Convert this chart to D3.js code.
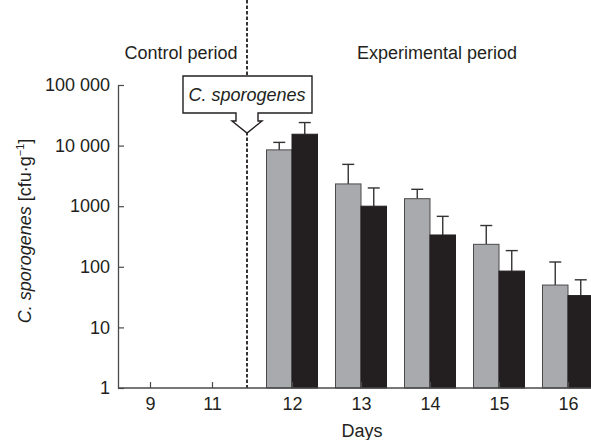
<!DOCTYPE html>
<html>
<head>
<meta charset="utf-8">
<script src="https://cdn.jsdelivr.net/npm/d3@7"></script>
<style>
  body { margin: 0; background: #fff; }
  svg { display: block; font-family: "Liberation Sans", Arial, Helvetica, sans-serif; }
  text { fill: #231f20; }
</style>
</head>
<body>
<div id="chart"></div>
<script>
"use strict";

// data
let days = [9, 11, 12, 13, 14, 15, 16];
let sampledDays = [12, 13, 14, 15, 16];
let greyMean = [8500, 2330, 1330, 235, 50];
let greyUpper = [11300, 4900, 1900, 480, 120];
let blackMean = [15400, 1000, 335, 85, 33.5];
let blackUpper = [24000, 2000, 680, 185, 61];
let yTicks = [1, 10, 100, 1000, 10000, 100000];
let yTickLabels = ['1', '10', '100', '1000', '10 000', '100 000'];
let dosingDay = 11.5;

let width = 591;
let height = 440;
let barW = 25.5;
let fontSize = 18;

let x = d3.scaleLinear()
  .domain([9, 11, 11.5, 12, 16])
  .range([150, 212, 247, 292, 568]);

let y = d3.scaleLog()
  .domain([1, 100000])
  .range([388, 85]);

let svg = d3.select('#chart')
  .append('svg')
  .attr('width', width)
  .attr('height', height);

let series = [
  { mean: greyMean, upper: greyUpper, fill: '#a9aaad', stroke: '#4a4a4a', off: -barW },
  { mean: blackMean, upper: blackUpper, fill: '#231f20', stroke: '#231f20', off: 0 }
];

// dashed separator
svg.append('line')
  .attr('x1', x(dosingDay)).attr('x2', x(dosingDay))
  .attr('y1', 0).attr('y2', y(1))
  .attr('stroke', '#231f20')
  .attr('stroke-width', 1.8)
  .attr('stroke-dasharray', '3.5,2');

series.forEach(s => {
  let rows = sampledDays.map((d, i) => ({ day: d, mean: s.mean[i], upper: s.upper[i] }));
  let g = svg.append('g');

  // error bars (upper only)
  g.selectAll('line.err')
    .data(rows)
    .enter().append('line')
    .attr('x1', d => x(d.day) + s.off + barW / 2)
    .attr('x2', d => x(d.day) + s.off + barW / 2)
    .attr('y1', d => y(d.mean))
    .attr('y2', d => y(d.upper))
    .attr('stroke', '#333')
    .attr('stroke-width', 1.4);

  g.selectAll('line.cap')
    .data(rows)
    .enter().append('line')
    .attr('x1', d => x(d.day) + s.off + barW / 2 - 6)
    .attr('x2', d => x(d.day) + s.off + barW / 2 + 6)
    .attr('y1', d => y(d.upper))
    .attr('y2', d => y(d.upper))
    .attr('stroke', '#333')
    .attr('stroke-width', 1.4);

  g.selectAll('rect')
    .data(rows)
    .enter().append('rect')
    .attr('x', d => x(d.day) + s.off)
    .attr('y', d => y(d.mean))
    .attr('width', barW)
    .attr('height', d => y(1) - y(d.mean))
    .attr('fill', s.fill)
    .attr('stroke', s.stroke)
    .attr('stroke-width', 1);
});

// axes
let yAxis = svg.append('g')
  .attr('transform', 'translate(118, 0)')
  .call(d3.axisLeft(y)
    .tickValues(yTicks)
    .tickFormat((d, i) => yTickLabels[i])
    .tickSizeInner(-6)
    .tickSizeOuter(0)
    .tickPadding(8));

let xAxis = svg.append('g')
  .attr('transform', 'translate(0, ' + y(1) + ')')
  .call(d3.axisBottom(x)
    .tickValues(days)
    .tickFormat(d3.format('d'))
    .tickSizeInner(-6)
    .tickSizeOuter(0)
    .tickPadding(9));

xAxis.select('.domain').remove();
xAxis.append('line')
  .attr('x1', 118).attr('x2', width)
  .attr('stroke', '#4a4a4a')
  .attr('stroke-width', 1.3);

[yAxis, xAxis].forEach(a => {
  a.selectAll('text')
    .attr('font-size', fontSize)
    .attr('font-family', '"Liberation Sans", Arial, sans-serif')
    .attr('fill', '#231f20');
  a.selectAll('.tick line').attr('stroke', '#4a4a4a').attr('stroke-width', 1.2);
  a.select('.domain').attr('stroke', '#4a4a4a').attr('stroke-width', 1.3);
});

// period labels
svg.append('text')
  .attr('x', 181).attr('y', 59)
  .attr('text-anchor', 'middle')
  .attr('font-size', fontSize)
  .text('Control period');

svg.append('text')
  .attr('x', 437).attr('y', 59)
  .attr('text-anchor', 'middle')
  .attr('font-size', fontSize)
  .text('Experimental period');

// callout box with arrow
let xs = x(dosingDay);
let callout = [
  [xs - 64, 76], [xs + 65, 76], [xs + 65, 113], [xs + 11, 113], [xs + 11, 121],
  [xs + 15, 121], [xs, 133], [xs - 15, 121], [xs - 11, 121], [xs - 11, 113],
  [xs - 64, 113]
];
svg.append('path')
  .attr('d', d3.line()(callout) + 'Z')
  .attr('fill', '#fff')
  .attr('stroke', '#231f20')
  .attr('stroke-width', 1.4);

svg.append('text')
  .attr('x', xs).attr('y', 101)
  .attr('text-anchor', 'middle')
  .attr('font-size', fontSize)
  .attr('font-style', 'italic')
  .text('C. sporogenes');

// axis titles
svg.append('text')
  .attr('x', 362).attr('y', 437)
  .attr('text-anchor', 'middle')
  .attr('font-size', fontSize)
  .text('Days');

let yTitle = svg.append('text')
  .attr('transform', 'translate(31, 231) rotate(-90)')
  .attr('text-anchor', 'middle')
  .attr('font-size', fontSize);
yTitle.append('tspan').attr('font-style', 'italic').text('C. sporogenes');
yTitle.append('tspan').text(' [cfu\u00b7g');
yTitle.append('tspan').attr('font-size', 11).attr('dy', -7).text('\u22121');
yTitle.append('tspan').attr('dy', 7).text(']');
</script>
</body>
</html>
